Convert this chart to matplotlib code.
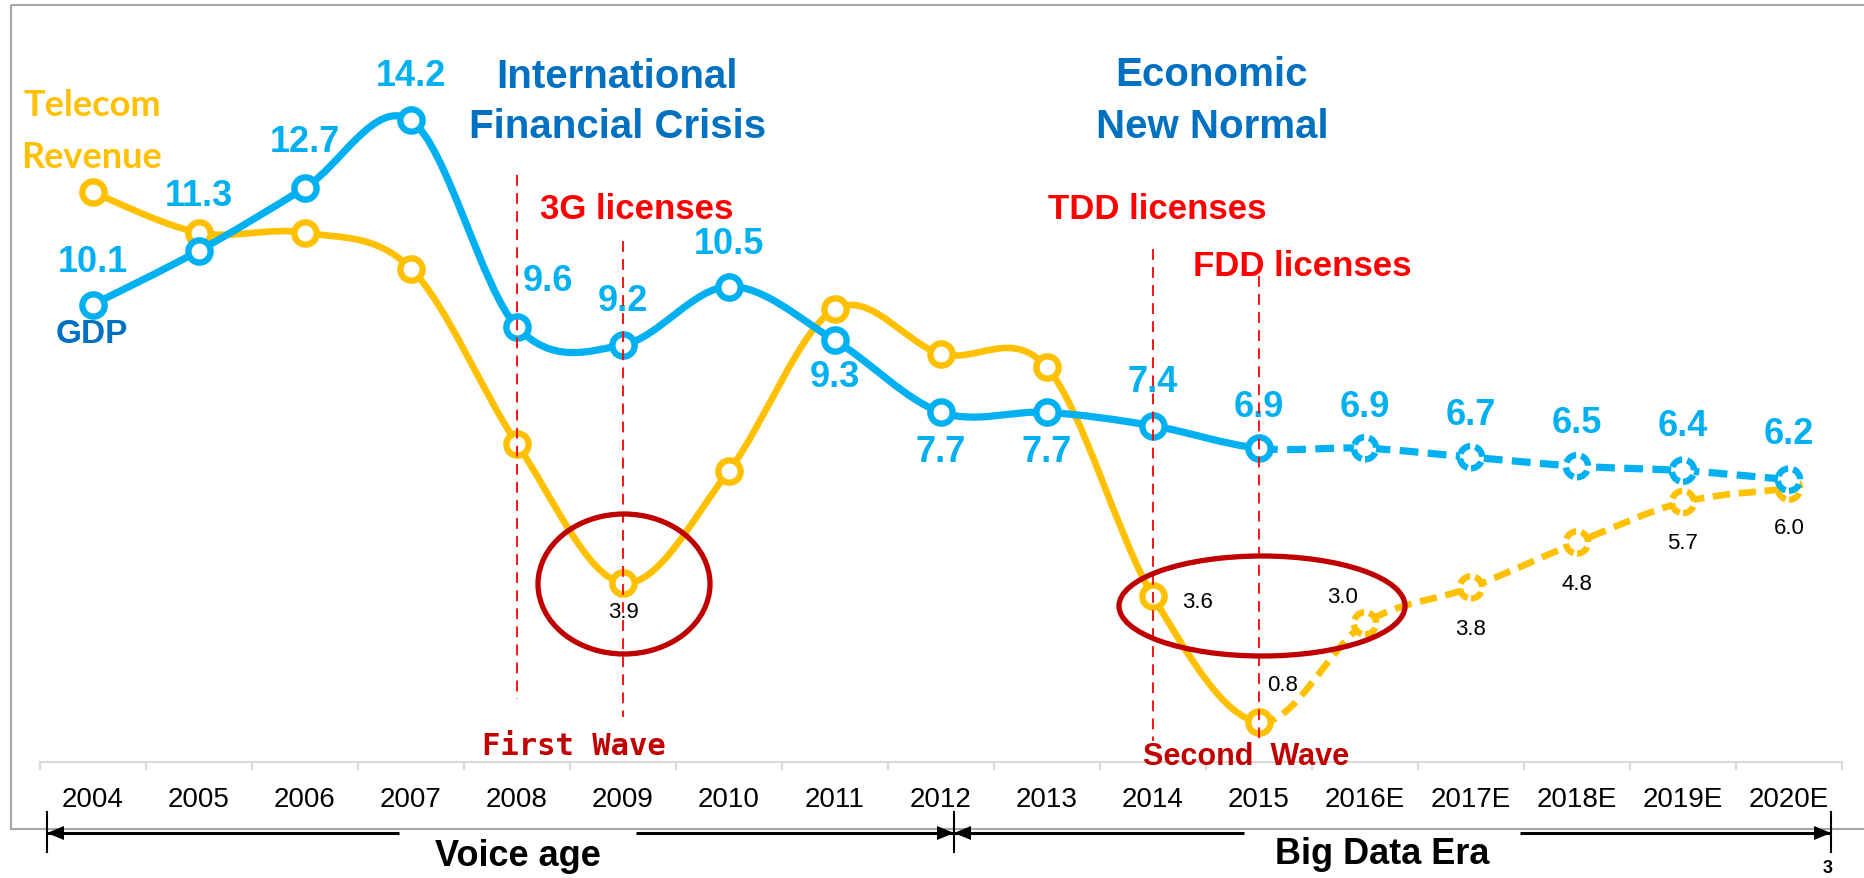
import numpy as np
import matplotlib
matplotlib.use('Agg')
import matplotlib.pyplot as plt
from matplotlib.path import Path
from matplotlib.patches import PathPatch, Ellipse, Rectangle, Polygon

plt.rcParams['font.family'] = ['Liberation Sans', 'DejaVu Sans']

# data
years = ['2004', '2005', '2006', '2007', '2008', '2009', '2010', '2011', '2012',
         '2013', '2014', '2015', '2016E', '2017E', '2018E', '2019E', '2020E']
gdp = [10.1, 11.3, 12.7, 14.2, 9.6, 9.2, 10.5, 9.3, 7.7, 7.7, 7.4, 6.9,
       6.9, 6.7, 6.5, 6.4, 6.2]
telecom = [12.6, 11.7, 11.7, 10.9, 7.0, 3.9, 6.4, 10.0, 9.0, 8.7, 3.6, 0.8,
           3.0, 3.8, 4.8, 5.7, 6.0]
last_actual = 11          # 2015, forecasts after it
telecom_labelled = [5, 10, 11, 12, 13, 14, 15, 16]

# label offsets in pixels (dx, dy up)
gdp_off = [(0, 43), (0, 55), (0, 46), (0, 45), (31, 46), (0, 44), (0, 43), (0, -36),
           (0, -39), (0, -39), (0, 44), (0, 42), (0, 42), (0, 43), (0, 44), (0, 45), (0, 46)]
tel_off = {5: (0, -29), 10: (45, -5), 11: (24, 38), 12: (-22, 27),
           13: (0, -41), 14: (0, -41), 15: (0, -40), 16: (0, -39)}

BLUE = '#00B0F0'
DARKBLUE = '#0070C0'
GOLD = '#FFC000'
RED = '#FF0000'
DARKRED = '#C00000'

W, H = 1865, 879
fig = plt.figure(figsize=(W / 100, H / 100), dpi=100)
ax = fig.add_axes([40 / W, (H - 763) / H, 1802 / W, 743 / H])
ax.set_xlim(-0.5, 16.5)
ax.set_ylim(-0.089, 16.46)


def smooth_path(vals, start, stop):
    pts = np.column_stack([np.arange(len(vals)), vals]).astype(float)
    n = len(pts)
    verts = [pts[start]]
    codes = [Path.MOVETO]
    for i in range(start, stop):
        p0 = pts[max(i - 1, 0)]
        p1, p2 = pts[i], pts[i + 1]
        p3 = pts[min(i + 2, n - 1)]
        verts += [p1 + (p2 - p0) / 6, p2 - (p3 - p1) / 6, p2]
        codes += [Path.CURVE4] * 3
    return Path(verts, codes)


def draw_series(vals, color, lw, z):
    x = np.arange(len(vals))
    ax.add_patch(PathPatch(smooth_path(vals, 0, last_actual), fill=False, ec=color,
                           lw=lw, capstyle='round', joinstyle='round', zorder=z))
    ax.add_patch(PathPatch(smooth_path(vals, last_actual, len(vals) - 1), fill=False,
                           ec=color, lw=lw, linestyle=(0, (2.6, 1.3)), zorder=z))
    ax.scatter(x[:last_actual + 1], vals[:last_actual + 1], s=16 ** 2, fc='white',
               ec=color, linewidths=4.6, zorder=z + 0.5)
    ax.scatter(x[last_actual + 1:], vals[last_actual + 1:], s=16 ** 2, fc='white',
               ec=color, linewidths=4.6, linestyles=(0, (2, 0.8)), zorder=z + 0.5)


draw_series(telecom, GOLD, 4.8, 3)
draw_series(gdp, BLUE, 5.2, 5)

for i, v in enumerate(gdp):
    dx, dy = gdp_off[i]
    ax.annotate(f'{v:.1f}', (i, v), xytext=(dx * 0.72, dy * 0.72), textcoords='offset points',
                ha='center', va='center', fontsize=26, fontweight='bold', color=BLUE, zorder=7)
for i in telecom_labelled:
    dx, dy = tel_off[i]
    ax.annotate(f'{telecom[i]:.1f}', (i, telecom[i]), xytext=(dx * 0.72, dy * 0.72),
                textcoords='offset points', ha='center', va='center', fontsize=16,
                color='black', zorder=7)

# category axis
for s in ['top', 'left', 'right']:
    ax.spines[s].set_visible(False)
ax.spines['bottom'].set_color('#D9D9D9')
ax.spines['bottom'].set_linewidth(1.5)
ax.set_yticks([])
ax.set_xticks(range(len(years)))
ax.set_xticklabels(years, fontsize=20)
ax.set_xticks(np.arange(-0.5, len(years)), minor=True)
ax.tick_params(axis='x', which='major', length=0, pad=17)
ax.tick_params(axis='x', which='minor', length=6, width=1.5, color='#D9D9D9')
ax.patch.set_alpha(0)

# overlay in pixel coordinates for annotations
ov = fig.add_axes([0, 0, 1, 1])
ov.set_xlim(0, W)
ov.set_ylim(H, 0)
ov.axis('off')
ov.patch.set_alpha(0)

ov.add_patch(Rectangle((11, 6), W, 824, fill=False, ec='#A6A6A6', lw=1.5))


def xpix(i):
    return 40 + 106 * (i + 0.5)


for i, y0, y1 in [(4, 176, 700), (5, 242, 718), (10, 250, 742), (11, 277, 740)]:
    ov.plot([xpix(i), xpix(i)], [y0, y1], color=RED, lw=1.3, linestyle=(0, (6, 4)), zorder=8)

ov.add_patch(Ellipse((624, 585), 172, 140, fill=False, ec=DARKRED, lw=3.8, zorder=9))
ov.add_patch(Ellipse((1262, 607), 286, 100, fill=False, ec=DARKRED, lw=3.8, zorder=9))

txt = dict(ha='center', va='center', fontweight='bold')
ov.text(92, 105, 'Telecom', color=GOLD, fontsize=26, family=['Lato', 'DejaVu Sans'], **txt)
ov.text(92, 157, 'Revenue', color=GOLD, fontsize=26, family=['Lato', 'DejaVu Sans'], **txt)
ov.text(92, 335, 'GDP', color=DARKBLUE, fontsize=24, **txt)
ov.text(617, 77, 'International', color=DARKBLUE, fontsize=29, **txt)
ov.text(618, 127, 'Financial Crisis', color=DARKBLUE, fontsize=29, **txt)
ov.text(1212, 75, 'Economic', color=DARKBLUE, fontsize=29, **txt)
ov.text(1212, 127, 'New Normal', color=DARKBLUE, fontsize=29, **txt)
ov.text(637, 210, '3G licenses', color=RED, fontsize=25, **txt)
ov.text(1157, 210, 'TDD licenses', color=RED, fontsize=25, **txt)
ov.text(1302, 267, 'FDD licenses', color=RED, fontsize=25, **txt)
ov.text(574, 747, 'First Wave', color=DARKRED, fontsize=22,
        family=['DejaVu Sans Mono'], **txt)
ov.text(1246, 757, 'Second  Wave', color=DARKRED, fontsize=22, **txt)
ov.text(518, 857, 'Voice age', color='black', fontsize=26, **txt)
ov.text(1382, 855, 'Big Data Era', color='black', fontsize=26, **txt)
ov.text(1828, 869, '3', color='black', fontsize=13, **txt)

# era arrows
ya = 834
for x0, x1 in [(47, 399), (636, 954), (954, 1244), (1520, 1831)]:
    ov.plot([x0, x1], [ya, ya], color='black', lw=2.2, solid_capstyle='butt')
for xt in [47, 954, 1831]:
    ov.plot([xt, xt], [813, 853], color='black', lw=1.5)
for tip, d in [(47, 1), (954, -1), (954, 1), (1831, -1)]:
    ov.add_patch(Polygon([(tip, ya), (tip + 17 * d, ya - 7), (tip + 17 * d, ya + 7)],
                         closed=True, fc='black', ec='none'))

fig.savefig('out.png', dpi=100)
